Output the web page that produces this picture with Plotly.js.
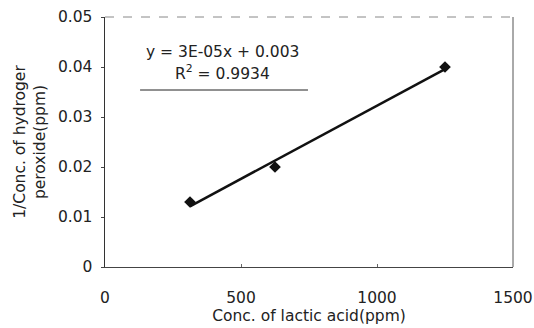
<!DOCTYPE html>
<html><head><meta charset="utf-8">
<script src="https://cdn.plot.ly/plotly-3.0.1.min.js"></script>
<style>body{margin:0;background:#fff}#c{width:534px;height:328px}</style>
</head><body><div id="c"></div>
<script>
const lacticAcid = [312.5, 625, 1250];
const invH2O2 = [0.013, 0.020, 0.040];
const xTicks = [0, 500, 1000, 1500];
const yTicks = [0, 0.01, 0.02, 0.03, 0.04, 0.05];
const yTickText = ['0', '0.01', '0.02', '0.03', '0.04', '0.05'];

// least squares fit
const n = lacticAcid.length;
const mx = lacticAcid.reduce((a,b)=>a+b,0)/n;
const my = invH2O2.reduce((a,b)=>a+b,0)/n;
let sxy=0, sxx=0;
for (let i=0;i<n;i++){sxy+=(lacticAcid[i]-mx)*(invH2O2[i]-my);sxx+=(lacticAcid[i]-mx)**2;}
const slope = sxy/sxx, icpt = my - slope*mx;
const fitX = [Math.min(...lacticAcid), Math.max(...lacticAcid)];
const fitY = fitX.map(x=>slope*x+icpt);

const font = {family:'DejaVu Sans, sans-serif', size:15.5, color:'#222'};
const data = [
  {x:fitX, y:fitY, mode:'lines', line:{color:'#111', width:2.5}, hoverinfo:'skip', showlegend:false},
  {x:lacticAcid, y:invH2O2, mode:'markers', marker:{symbol:'diamond', size:9, color:'#111'}, showlegend:false}
];
const layout = {
  width:534, height:328,
  margin:{l:105, r:21, t:17, b:61},
  paper_bgcolor:'#fff', plot_bgcolor:'#fff',
  font:font,
  showlegend:false,
  xaxis:{range:[0,1500], tickvals:xTicks, ticks:'inside', ticklen:3, tickcolor:'#666', tickwidth:1,
    showgrid:false, zeroline:false, ticklabelstandoff:16,
    showline:true, linecolor:'#444', linewidth:1, tickfont:font,
    title:{text:'Conc. of lactic acid(ppm)', font:font, standoff:4}},
  yaxis:{range:[0,0.05], tickvals:yTicks, ticktext:yTickText, ticks:'outside', ticklen:3, tickcolor:'#444',
    showgrid:false, zeroline:false, showline:true, linecolor:'#333', linewidth:1.5, tickfont:font,
    ticklabelstandoff:5,
    title:{text:'1/Conc. of hydroger<br>peroxide(ppm)', font:font, standoff:8}},
  shapes:[
    {type:'line', xref:'paper', yref:'paper', x0:0, x1:1, y0:1, y1:1, line:{color:'#888', width:1, dash:'dash'}},
    {type:'line', xref:'paper', yref:'paper', x0:1, x1:1, y0:0, y1:1, line:{color:'#555', width:1}},
    {type:'line', xref:'paper', yref:'paper', x0:0.086, x1:0.4975, y0:0.708, y1:0.708, line:{color:'#222', width:1}}
  ],
  annotations:[
    {xref:'paper', yref:'paper', x:0.287, y:0.86, text:'y = 3E-05x + 0.003', showarrow:false, font:font, xanchor:'center', yanchor:'middle'},
    {xref:'paper', yref:'paper', x:0.287, y:0.78, text:'R<sup>2</sup> = 0.9934', showarrow:false, font:font, xanchor:'center', yanchor:'middle'}
  ]
};
Plotly.newPlot('c', data, layout, {displayModeBar:false, staticPlot:true});
</script></body></html>
